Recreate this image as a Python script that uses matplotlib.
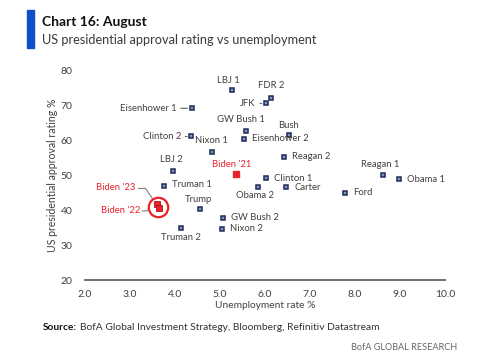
import matplotlib
matplotlib.use("Agg")
import matplotlib.pyplot as plt
from matplotlib.patches import Rectangle

plt.rcParams['font.family'] = ['Lato', 'DejaVu Sans']

# ---------------- data ----------------
presidents = ["LBJ 1", "FDR 2", "JFK", "Eisenhower 1", "GW Bush 1", "Bush",
              "Eisenhower 2", "Clinton 2", "Nixon 1", "LBJ 2", "Truman 1",
              "Reagan 2", "Clinton 1", "Obama 2", "Carter", "Reagan 1",
              "Obama 1", "Ford", "GW Bush 2", "Nixon 2", "Trump", "Truman 2"]
unemployment = [5.26, 6.13, 6.02, 4.37, 5.57, 6.54,
                5.54, 4.36, 4.83, 3.95, 3.76,
                6.43, 6.03, 5.85, 6.47, 8.63,
                8.98, 7.78, 5.07, 5.04, 4.56, 4.13]
approval = [74.5, 72.3, 70.7, 69.3, 62.9, 61.6,
            60.5, 61.2, 56.7, 51.4, 47.1,
            55.4, 49.2, 46.6, 46.6, 50.1,
            48.9, 45.1, 37.9, 34.7, 40.3, 34.8]

biden_names = ["Biden '21", "Biden '23", "Biden '22"]
biden_unemp = [5.36, 3.59, 3.65]
biden_appr = [50.3, 41.9, 40.8]

x_ticks = [2.0, 3.0, 4.0, 5.0, 6.0, 7.0, 8.0, 9.0, 10.0]
y_ticks = [20, 30, 40, 50, 60, 70, 80]

# ---------------- label placement (pixel offsets, style) ----------------
# name: (dx, dy, ha, leader)
label_pos = {
    "LBJ 1": (-3, 10, "center", False),
    "FDR 2": (0, 12, "center", False),
    "JFK": (-10, 0, "right", True),
    "Eisenhower 1": (-15, 0, "right", True),
    "GW Bush 1": (-5, 11, "center", False),
    "Bush": (-1, 10, "center", False),
    "Eisenhower 2": (8, 0, "left", False),
    "Clinton 2": (-10, 0, "right", True),
    "Nixon 1": (-1, 12, "center", False),
    "LBJ 2": (-1, 11, "center", False),
    "Truman 1": (8, 1, "left", False),
    "Reagan 2": (8, 0, "left", False),
    "Clinton 1": (8, 0, "left", False),
    "Obama 2": (-3, -8, "center", False),
    "Carter": (8, 0, "left", False),
    "Reagan 1": (-3, 11, "center", False),
    "Obama 1": (8, 0, "left", False),
    "Ford": (8, 0, "left", False),
    "GW Bush 2": (8, 0, "left", False),
    "Nixon 2": (8, 0, "left", False),
    "Trump": (-2, 10, "center", False),
    "Truman 2": (0, -9, "center", False),
}
# Biden labels: (dx, dy) of the text's right/center anchor from its marker
biden_label_pos = [(-5, 10, "center"), (-21, 16, "right"), (-19, -3, "right")]

NAVY = "#1c2b5a"
RED = "#e8232b"
GREY_TXT = "#404040"
LBL_SIZE = 6.8

fig = plt.figure(figsize=(5.0, 3.55), dpi=100)
ax = fig.add_axes([85 / 500, 1 - 280 / 355, 360 / 500, 209 / 355])

ax.plot(unemployment, approval, linestyle="none", marker="s", markersize=3.4,
        markerfacecolor="#8a96b8", markeredgecolor=NAVY, markeredgewidth=1.1,
        zorder=3)

for name, xv, yv in zip(presidents, unemployment, approval):
    dx, dy, ha, leader = label_pos[name]
    kw = {}
    if leader:
        kw["arrowprops"] = dict(arrowstyle="-", color="#606060", lw=0.8,
                                shrinkA=1, shrinkB=3)
    ax.annotate(name, (xv, yv), xytext=(dx, dy), textcoords="offset pixels",
                ha=ha, va="center", fontsize=LBL_SIZE, color=GREY_TXT, **kw)

# Biden points
ax.plot(biden_unemp[:1], biden_appr[:1], linestyle="none", marker="s",
        markersize=4.5, color=RED, zorder=4)
ax.plot(biden_unemp[1:], biden_appr[1:], linestyle="none", marker="s",
        markersize=3.8, markerfacecolor=RED, markeredgecolor="#b01018",
        markeredgewidth=0.6, zorder=4)
cx = sum(biden_unemp[1:]) / 2 + 0.01
cy = sum(biden_appr[1:]) / 2 - 0.35
ax.plot([cx], [cy], linestyle="none", marker="o", markersize=14,
        markerfacecolor="none", markeredgecolor=RED, markeredgewidth=1.6,
        zorder=5)

for name, xv, yv, (dx, dy, ha) in zip(biden_names, biden_unemp, biden_appr,
                                      biden_label_pos):
    ax.annotate(name, (xv, yv), xytext=(dx, dy), textcoords="offset pixels",
                ha=ha, va="center", fontsize=LBL_SIZE, color=RED)

# leader lines from Biden '23 / '22 labels to the circle
ax.annotate("", (cx, cy), xytext=(-20, 18.5), textcoords="offset pixels",
            arrowprops=dict(arrowstyle="-", color="#707070", lw=0.7,
                            shrinkA=0, shrinkB=7.5,
                            connectionstyle="angle,angleA=0,angleB=125,rad=0"))
ax.annotate("", (cx, cy), xytext=(-16, -4), textcoords="offset pixels",
            arrowprops=dict(arrowstyle="-", color="#707070", lw=0.7,
                            shrinkA=0, shrinkB=7.5,
                            connectionstyle="angle,angleA=0,angleB=19,rad=0"))

ax.set_xlim(2, 10)
ax.set_ylim(20, 80)
ax.set_xticks(x_ticks)
ax.set_xticklabels([f"{v:.1f}" for v in x_ticks])
ax.set_yticks(y_ticks)
ax.set_yticklabels([str(v) for v in y_ticks])
ax.tick_params(length=0, labelsize=7.5, labelcolor=GREY_TXT)
ax.tick_params(axis="x", pad=7)
ax.tick_params(axis="y", pad=9)
for s in ("top", "right", "left"):
    ax.spines[s].set_visible(False)
ax.spines["bottom"].set_color("#6f6f6f")
ax.spines["bottom"].set_linewidth(1.4)
ax.patch.set_alpha(0)

ax.set_xlabel("Unemployment rate %", fontsize=7.3, color=GREY_TXT, labelpad=2)
ax.set_ylabel("US presidential approval rating %", fontsize=7.6,
              color=GREY_TXT, labelpad=2)

# ---------------- header / footer ----------------
fig.patches.append(Rectangle((27 / 500, 1 - 47.5 / 355), 7 / 500, 37.5 / 355,
                             transform=fig.transFigure, color="#0b50c8"))
fig.text(42 / 500, 1 - 22 / 355, "Chart 16: August", fontsize=10,
         fontweight="bold", color="#111111", va="center", ha="left")
fig.text(42 / 500, 1 - 40 / 355,
         "US presidential approval rating vs unemployment", fontsize=9.2,
         color="#3a3a3a", va="center", ha="left")
fig.text(43 / 500, 1 - 327 / 355, "Source:", fontsize=7.3, fontweight="bold",
         color="#111111", va="center", ha="left")
fig.text(80 / 500, 1 - 327 / 355,
         "BofA Global Investment Strategy, Bloomberg, Refinitiv Datastream",
         fontsize=7.4, color="#333333", va="center", ha="left")
fig.text(457 / 500, 1 - 347 / 355, "BofA GLOBAL RESEARCH", fontsize=6.6,
         color="#666666", va="center", ha="right")

fig.savefig("out.png", dpi=100)
